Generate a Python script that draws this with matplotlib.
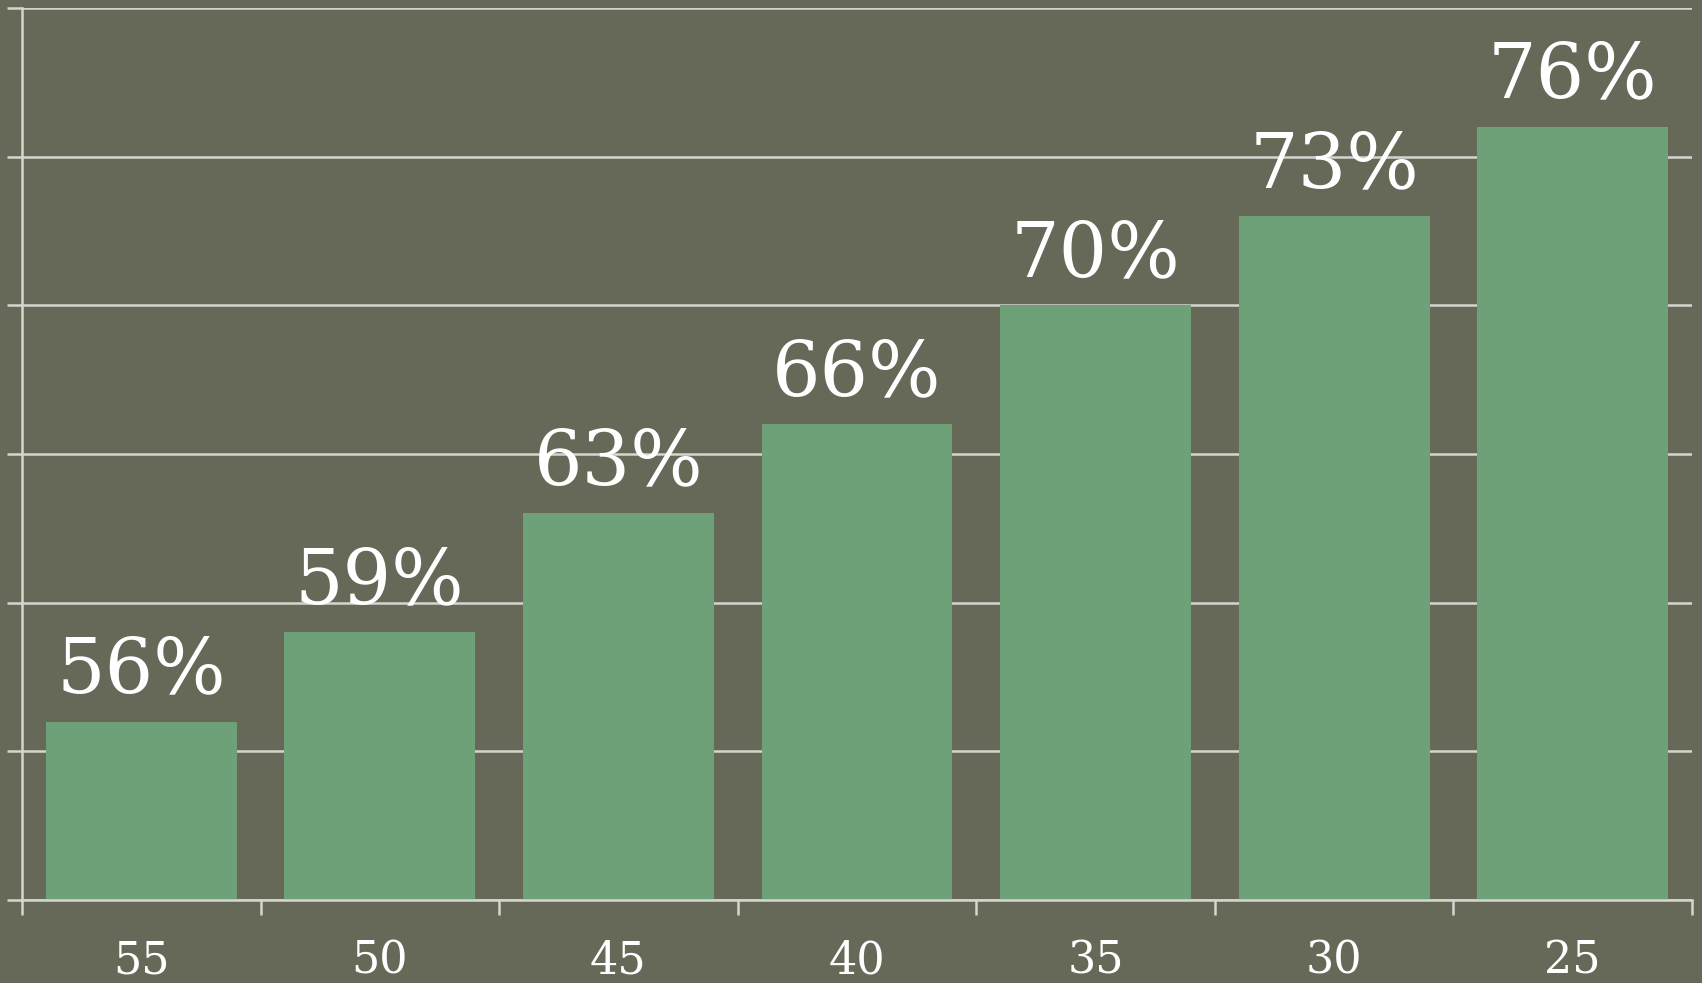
import matplotlib

matplotlib.use("Agg")
import matplotlib.pyplot as plt

# data
categories = ["55", "50", "45", "40", "35", "30", "25"]
values = [56, 59, 63, 66, 70, 73, 76]
value_labels = ["56%", "59%", "63%", "66%", "70%", "73%", "76%"]
y_ticks = [50, 55, 60, 65, 70, 75, 80]

BG = "#666858"
BAR = "#6fa178"
LINE = "#d6d6d0"
FONT = "DejaVu Serif"

fig = plt.figure(figsize=(17.02, 9.83), dpi=100, facecolor=BG)
ax = fig.add_axes([22 / 1702, 83 / 983, 1670 / 1702, 892 / 983], facecolor=BG)

x = list(range(len(categories)))
ax.bar(x, values, width=0.8, color=BAR, zorder=2)

for xi, v, lab in zip(x, values, value_labels):
    ax.annotate(lab, (xi, v), xytext=(0, 21), textcoords="offset points",
                ha="center", va="baseline", color="white", fontsize=55,
                family=FONT)

ax.set_xlim(-0.5, len(categories) - 0.5)
ax.set_ylim(y_ticks[0], y_ticks[-1])

ax.set_yticks(y_ticks)
ax.set_yticklabels([])
ax.yaxis.grid(True, color=LINE, linewidth=1.8, zorder=1)
ax.tick_params(axis="y", length=11, width=1.8, color=LINE)

# category ticks sit on the boundaries, labels in the middle
ax.set_xticks([i - 0.5 for i in range(len(categories) + 1)])
ax.set_xticklabels([])
ax.set_xticks(x, minor=True)
ax.set_xticklabels(categories, minor=True, color="white", fontsize=32,
                   family=FONT)
ax.tick_params(axis="x", which="major", length=11, width=1.8, color=LINE)
ax.tick_params(axis="x", which="minor", length=0, pad=28)

for side in ("top", "right"):
    ax.spines[side].set_visible(False)
for side in ("left", "bottom"):
    ax.spines[side].set_color(LINE)
    ax.spines[side].set_linewidth(1.8)

fig.savefig("out.png", dpi=100, facecolor=BG)
plt.close(fig)
